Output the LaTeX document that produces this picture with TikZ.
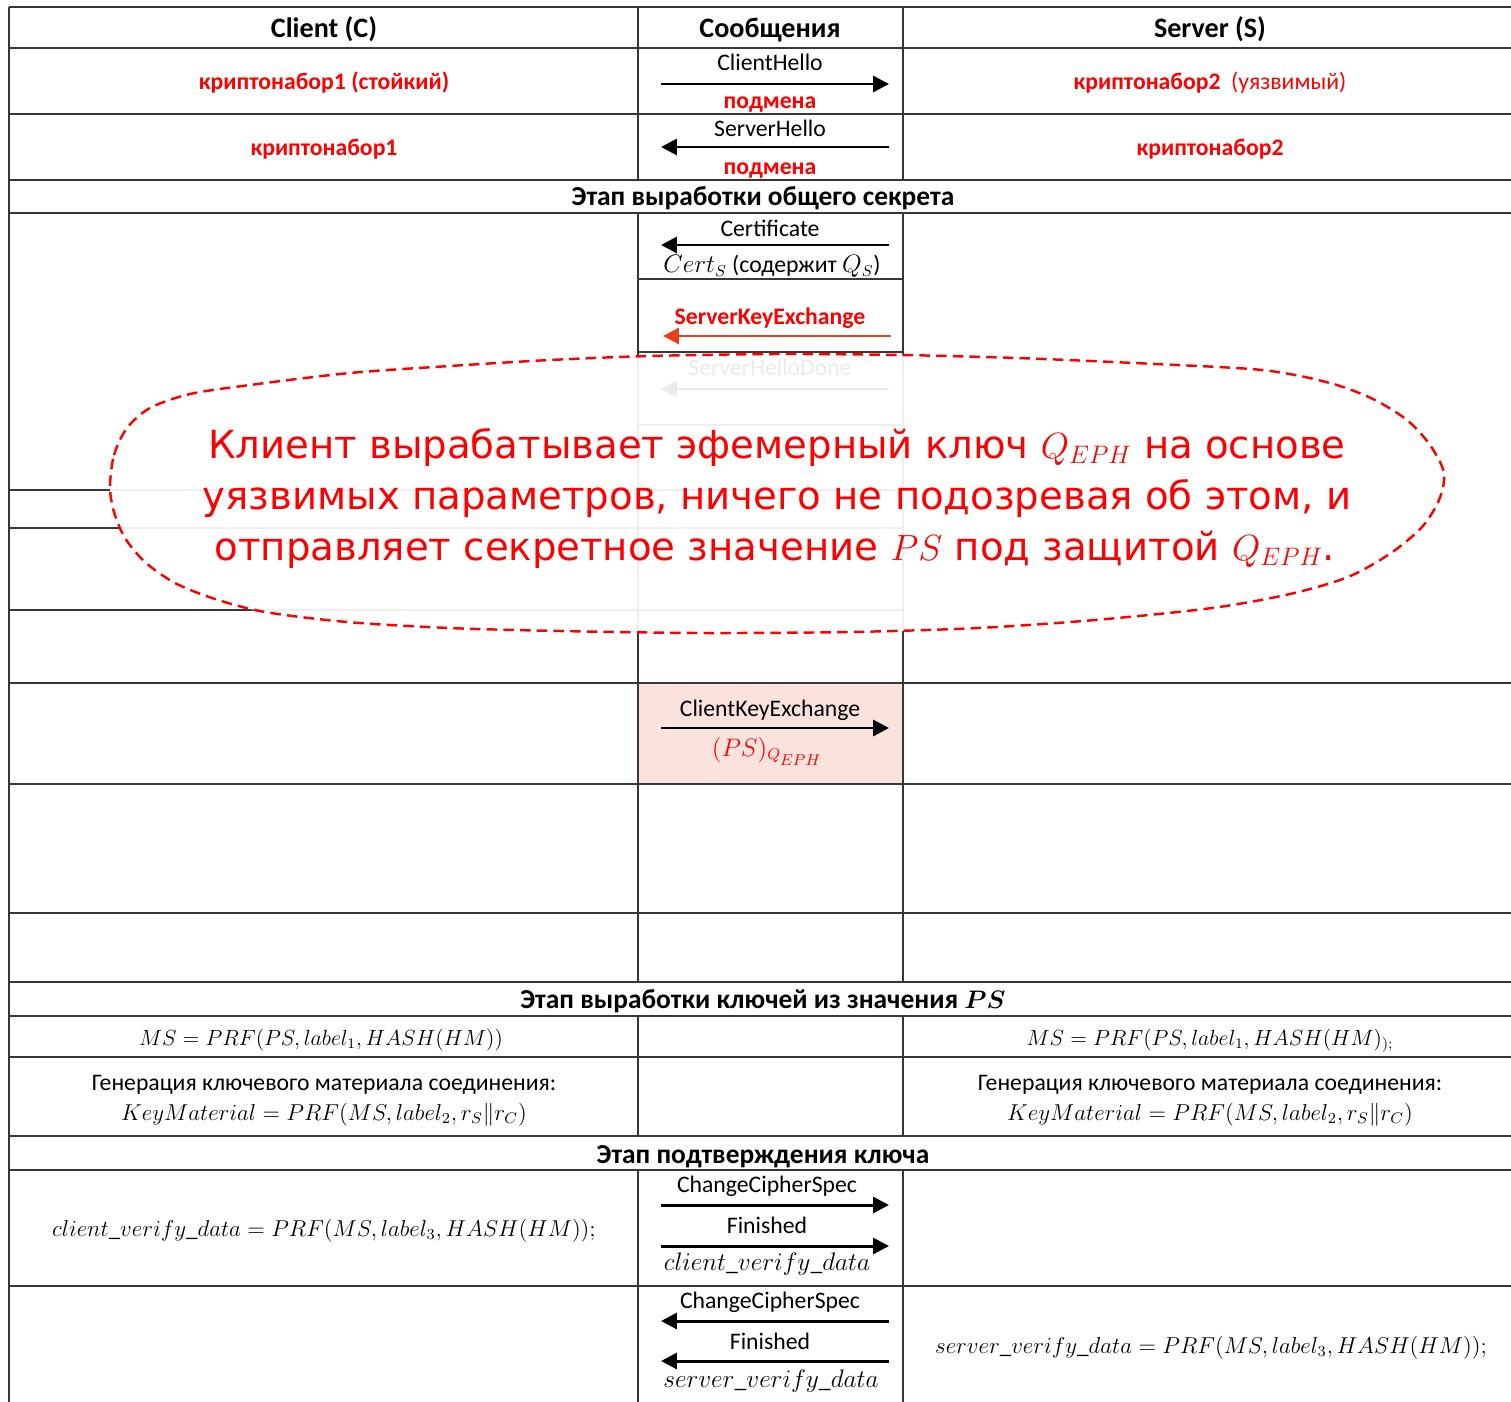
\documentclass[tikz,border=0pt]{standalone}
\usepackage{fontspec}
\setmainfont{Carlito}
\newfontfamily\handfont{DejaVu Sans}
\usetikzlibrary{arrows.meta}
\definecolor{gridc}{RGB}{55,55,55}
\definecolor{pinkfill}{RGB}{252,226,220}
\definecolor{skeorange}{RGB}{232,64,28}
\begin{document}
\begin{tikzpicture}[x=0.02cm,y=-0.02cm,
  grid/.style={draw=gridc,line width=0.7pt},
  msg/.style={line width=1.7pt,-{Triangle[length=9pt,width=9pt]}},
  txt/.style={inner sep=0pt,anchor=base,font=\fontsize{13.5}{16}\selectfont},
  formula/.style={inner sep=0pt,anchor=base,font=\fontsize{12}{14}\selectfont},
  hdr/.style={inner sep=0pt,anchor=base,font=\fontsize{16}{19}\selectfont\bfseries},
  stagehdr/.style={inner sep=0pt,anchor=base,font=\fontsize{15.6}{18}\selectfont\bfseries},
  redlbl/.style={inner sep=0pt,anchor=base,text=red,font=\fontsize{13.5}{16}\selectfont\bfseries},
  bubble/.style={draw=red,line width=1.4pt,dash pattern=on 6pt off 3.5pt,fill=white,fill opacity=0.92},
  bubbletext/.style={inner sep=0pt,anchor=base,text=red,font=\handfont\fontsize{22}{26}\selectfont}
]
\useasboundingbox (0,0) rectangle (1511,1402);

% shaded cell of the client key exchange
\fill[pinkfill] (638,683) rectangle (903,784);

% table rules
\foreach \yy in {7,48,114,180,213,683,784,913,982,1016,1057,1136,1170,1286}
  \draw[grid] (9,\yy) -- (1511,\yy);
\draw[grid] (9,7) -- (9,1402);
\foreach \xx in {638,903}{
  \draw[grid] (\xx,7) -- (\xx,180);
  \draw[grid] (\xx,213) -- (\xx,982);
  \draw[grid] (\xx,1016) -- (\xx,1136);
  \draw[grid] (\xx,1170) -- (\xx,1402);
}
\foreach \yy in {279,352,425}
  \draw[grid] (638,\yy) -- (903,\yy);
\foreach \yy in {490,528,610}
  \draw[grid] (9,\yy) -- (903,\yy);

% header row
\node[hdr] (hc) at (324,38) {Client (C)};
\node[hdr] (hm) at (770,38) {Сообщения};
\node[hdr] (hs) at (1210,38) {Server (S)};

% hello exchange
\node[redlbl] (c1) at (324,90) {криптонабор1 (стойкий)};
\node[txt] (chello) at (770,71) {ClientHello};
\coordinate (chl) at (661,84);
\coordinate (chr) at (889,84);
\draw[msg] (chl) -- (chr);
\node[redlbl] (sub1) at (770,109) {подмена};
\node[inner sep=0pt,anchor=base,text=red,font=\fontsize{13.5}{16}\selectfont] (s1) at (1210,90) {\textbf{криптонабор2}\ \ (уязвимый)};

\node[redlbl] (c2) at (324,156) {криптонабор1};
\node[txt] (shello) at (770,137) {ServerHello};
\coordinate (shl) at (661,147);
\coordinate (shr) at (889,147);
\draw[msg] (shr) -- (shl);
\node[redlbl] (sub2) at (770,175) {подмена};
\node[redlbl] (s2) at (1210,156) {криптонабор2};

% shared secret stage
\node[stagehdr] (st1) at (763,206) {Этап выработки общего секрета};
\node[txt] (cert) at (770,236) {Certificate};
\coordinate (cel) at (661,245);
\coordinate (cer) at (889,245);
\draw[msg] (cer) -- (cel);
\node[txt] (certs) at (772,273) {$Cert_S$ (содержит $Q_S$)};

\node[redlbl] (ske) at (770,324) {ServerKeyExchange};
\coordinate (skl) at (663,336);
\coordinate (skr) at (891,336);
\draw[msg,skeorange] (skr) -- (skl);

\node[txt] (shd) at (770,375) {ServerHelloDone};
\coordinate (sdl) at (661,389);
\coordinate (sdr) at (889,389);
\draw[msg] (sdr) -- (sdl);

% callout
\draw[bubble] plot[smooth cycle] coordinates {
  (110,487) (114,455) (127,428) (150,408) (190,394) (250,385) (350,373)
  (450,366) (550,360) (650,356) (777,354) (900,355) (1017,358) (1134,363)
  (1251,369) (1300,376) (1340,386) (1375,400) (1407,420) (1430,445)
  (1444,473) (1439,500) (1422,527) (1391,553) (1348,577) (1290,594)
  (1212,608) (1095,620) (978,628) (850,632) (700,633) (560,631) (449,628)
  (347,622) (265,612) (215,599) (175,583) (145,562) (125,538) (114,512)};
\node[bubbletext] (b1) at (777,458) {Клиент вырабатывает эфемерный ключ $Q_{EPH}$ на основе};
\node[bubbletext] (b2) at (777,509) {уязвимых параметров, ничего не подозревая об этом, и};
\node[bubbletext] (b3) at (775,560) {отправляет секретное значение $PS$ под защитой $Q_{EPH}$.};

% client key exchange
\node[txt] (cke) at (770,716) {ClientKeyExchange};
\coordinate (ckl) at (661,728);
\coordinate (ckr) at (889,728);
\draw[msg] (ckl) -- (ckr);
\node[txt,text=red] (pse) at (767,756) {$(PS)_{Q_{\scriptstyle EPH}}$};

% key derivation stage
\node[stagehdr] (st2) at (763,1008) {Этап выработки ключей из значения {\boldmath$PS$}};
\node[formula] (msc) at (321,1045) {\scalebox{1.04}{$MS = PRF(PS, label_1, HASH(HM))$}};
\node[formula] (mss) at (1210,1045) {\scalebox{1.04}{$MS = PRF(PS, label_1, HASH(HM)_{);}$}};
\node[txt] (gc) at (324,1090) {Генерация ключевого материала соединения:};
\node[formula] (kc) at (324,1120) {\scalebox{1.09}{$KeyMaterial = PRF(MS, label_2, r_S \| r_C)$}};
\node[txt] (gs) at (1210,1090) {Генерация ключевого материала соединения:};
\node[formula] (ks) at (1210,1120) {\scalebox{1.09}{$KeyMaterial = PRF(MS, label_2, r_S \| r_C)$}};

% key confirmation stage
\node[stagehdr] (st3) at (763,1163) {Этап подтверждения ключа};
\node[formula] (cvd) at (324,1236) {\scalebox{1.09}{$client\_verify\_data = PRF\bigl(MS, label_3, HASH(HM)\bigr);$}};
\node[txt] (ccs1) at (767,1192) {ChangeCipherSpec};
\coordinate (c1l) at (661,1205);
\coordinate (c1r) at (889,1205);
\draw[msg] (c1l) -- (c1r);
\node[txt] (fin1) at (767,1233) {Finished};
\coordinate (f1l) at (661,1246);
\coordinate (f1r) at (889,1246);
\draw[msg] (f1l) -- (f1r);
\node[txt] (cvm) at (767,1270) {$client\_verify\_data$};

\node[txt] (ccs2) at (770,1308) {ChangeCipherSpec};
\coordinate (c2l) at (661,1321);
\coordinate (c2r) at (889,1321);
\draw[msg] (c2r) -- (c2l);
\node[txt] (fin2) at (770,1349) {Finished};
\coordinate (f2l) at (661,1361);
\coordinate (f2r) at (889,1361);
\draw[msg] (f2r) -- (f2l);
\node[txt] (svm) at (771,1387) {$server\_verify\_data$};
\node[formula] (svd) at (1211,1353) {\scalebox{1.09}{$server\_verify\_data = PRF\bigl(MS, label_3, HASH(HM)\bigr);$}};
\end{tikzpicture}
\end{document}
